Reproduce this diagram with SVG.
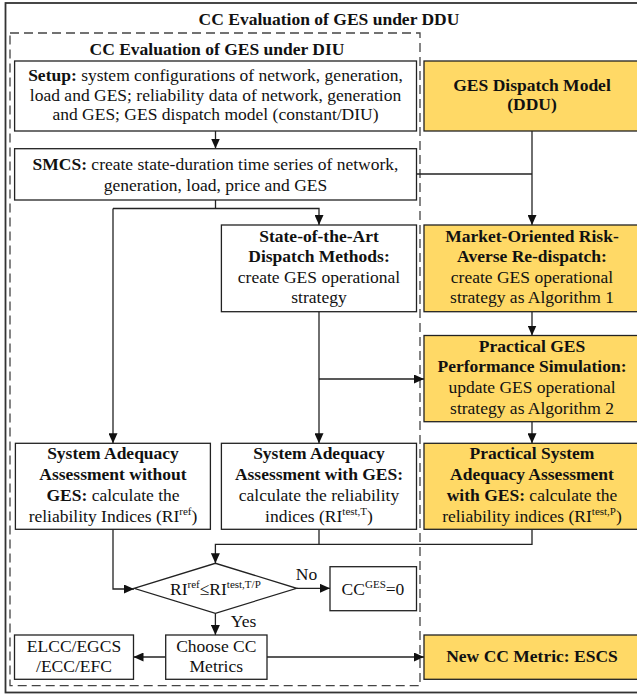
<svg xmlns="http://www.w3.org/2000/svg" width="637" height="696" viewBox="0 0 637 696">
<style>
text{font-family:"Liberation Serif","Times New Roman",serif;font-size:17.5px;fill:#111;text-anchor:middle}
.b{font-weight:bold}
.box{fill:#fff;stroke:#222;stroke-width:1.3}
.y{fill:#FFD966;stroke:#222;stroke-width:1.3}
.c{fill:none;stroke:#222;stroke-width:1.3}
.sup{font-size:11px}
</style>
<defs>
<marker id="ah" markerWidth="10" markerHeight="9" refX="10" refY="4.5" orient="auto" markerUnits="userSpaceOnUse">
<path d="M0,0L10,4.5L0,9z" fill="#111"/>
</marker>
</defs>
<rect width="637" height="696" fill="#fff"/>
<g id="outer">
<rect x="5.5" y="3" width="640" height="689.5" fill="none" stroke="#333" stroke-width="1.8"/>
<text class="b" x="329" y="24.5">CC Evaluation of GES under DDU</text>
</g>
<g id="diu-frame">
<rect x="10" y="33" width="410" height="652.7" fill="none" stroke="#444" stroke-width="1.3" stroke-dasharray="9,5"/>
<text class="b" x="217" y="55">CC Evaluation of GES under DIU</text>
</g>
<g id="connectors">
<path class="c" d="M215.5,131V148.5" marker-end="url(#ah)"/>
<path class="c" d="M532,131V225" marker-end="url(#ah)"/>
<path class="c" d="M416.5,174H532"/>
<path class="c" d="M215.5,200V208.5"/>
<path class="c" d="M113,208.5H319V225" marker-end="url(#ah)"/>
<path class="c" d="M113,208.5V443.3" marker-end="url(#ah)"/>
<path class="c" d="M532,311.7V335.5" marker-end="url(#ah)"/>
<path class="c" d="M319,311.7V443.3" marker-end="url(#ah)"/>
<path class="c" d="M319,379H424" marker-end="url(#ah)"/>
<path class="c" d="M532,421.7V443.3" marker-end="url(#ah)"/>
<path class="c" d="M113,529.3V589H134" marker-end="url(#ah)"/>
<path class="c" d="M319,529.3V544.3"/>
<path class="c" d="M532,529.3V544.3H215.4V563.3" marker-end="url(#ah)"/>
<path class="c" d="M296.7,588.3H330" marker-end="url(#ah)"/>
<path class="c" d="M215.4,613.3V635" marker-end="url(#ah)"/>
<path class="c" d="M165.7,657H133.5" marker-end="url(#ah)"/>
<path class="c" d="M267,657H424" marker-end="url(#ah)"/>
</g>
<g id="setup">
<rect class="box" x="14.6" y="61" width="401.9" height="70"/>
<text x="215.5" y="81"><tspan class="b">Setup:</tspan> system configurations of network, generation,</text>
<text x="215.5" y="100.5">load and GES; reliability data of network, generation</text>
<text x="215.5" y="120">and GES; GES dispatch model (constant/DIU)</text>
</g>
<g id="ddu">
<rect class="y" x="424" y="61" width="216" height="70"/>
<text class="b" x="532" y="91">GES Dispatch Model</text>
<text class="b" x="532" y="110">(DDU)</text>
</g>
<g id="smcs">
<rect class="box" x="14.6" y="148.7" width="401.9" height="51.3"/>
<text x="215.5" y="170"><tspan class="b">SMCS:</tspan> create state-duration time series of network,</text>
<text x="215.5" y="190.5">generation, load, price and GES</text>
</g>
<g id="state-art">
<rect class="box" x="221.4" y="225" width="195.1" height="86.7"/>
<text class="b" x="319" y="242">State-of-the-Art</text>
<text class="b" x="319" y="262">Dispatch Methods:</text>
<text x="319" y="283">create GES operational</text>
<text x="319" y="303">strategy</text>
</g>
<g id="market">
<rect class="y" x="424" y="225" width="216" height="86.7"/>
<text class="b" x="532" y="242">Market-Oriented Risk-</text>
<text class="b" x="532" y="262">Averse Re-dispatch:</text>
<text x="532" y="283">create GES operational</text>
<text x="532" y="303">strategy as Algorithm 1</text>
</g>
<g id="practical-ges">
<rect class="y" x="424" y="335.5" width="216" height="86.2"/>
<text class="b" x="532" y="352">Practical GES</text>
<text class="b" x="532" y="372">Performance Simulation:</text>
<text x="532" y="393">update GES operational</text>
<text x="532" y="413.5">strategy as Algorithm 2</text>
</g>
<g id="saa-ref">
<rect class="box" x="15.4" y="443.3" width="195" height="86"/>
<text class="b" x="113" y="459">System Adequacy</text>
<text class="b" x="113" y="480">Assessment without</text>
<text x="113" y="501"><tspan class="b">GES:</tspan> calculate the</text>
<text x="113" y="521.5">reliability Indices (RI<tspan class="sup" dy="-7">ref</tspan><tspan dy="7">)</tspan></text>
</g>
<g id="saa-test">
<rect class="box" x="221.4" y="443.3" width="195.1" height="86"/>
<text class="b" x="319" y="459">System Adequacy</text>
<text class="b" x="319" y="480">Assessment with GES:</text>
<text x="319" y="501">calculate the reliability</text>
<text x="319" y="521.5">indices (RI<tspan class="sup" dy="-7">test,T</tspan><tspan dy="7">)</tspan></text>
</g>
<g id="saa-practical">
<rect class="y" x="424" y="443.3" width="216" height="86"/>
<text class="b" x="532" y="459">Practical System</text>
<text class="b" x="532" y="480">Adequacy Assessment</text>
<text x="532" y="501"><tspan class="b">with GES:</tspan> calculate the</text>
<text x="532" y="521.5">reliability indices (RI<tspan class="sup" dy="-7">test,P</tspan><tspan dy="7">)</tspan></text>
</g>
<g id="decision">
<path class="box" d="M134,588.3L215.4,563.3L296.7,588.3L215.4,613.3Z"/>
<text x="215.4" y="595">RI<tspan class="sup" dy="-7">ref</tspan><tspan dy="7">≤RI</tspan><tspan class="sup" dy="-7">test,T/P</tspan></text>
<text x="306.5" y="580">No</text>
<text x="243.5" y="626.5">Yes</text>
</g>
<g id="cc-zero">
<rect class="box" x="330" y="566.7" width="86.5" height="44"/>
<text x="373" y="594.5">CC<tspan class="sup" dy="-7">GES</tspan><tspan dy="7">=0</tspan></text>
</g>
<g id="choose">
<rect class="box" x="165.7" y="635" width="101.3" height="44.3"/>
<text x="216.3" y="651.7">Choose CC</text>
<text x="216.3" y="672">Metrics</text>
</g>
<g id="elcc">
<rect class="box" x="14.5" y="635" width="119" height="44.3"/>
<text x="74" y="651.7">ELCC/EGCS</text>
<text x="74" y="672">/ECC/EFC</text>
</g>
<g id="escs">
<rect class="y" x="424" y="635" width="216" height="44.3"/>
<text class="b" x="532" y="662">New CC Metric: ESCS</text>
</g>
</svg>
